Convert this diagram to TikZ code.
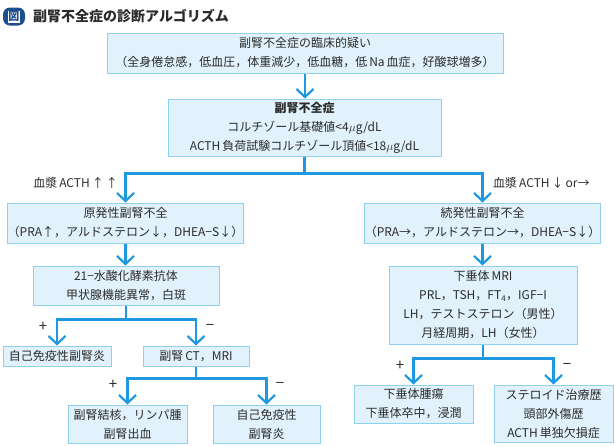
\documentclass[tikz,border=0pt]{standalone}
\usepackage{fontspec}
\newfontfamily\jpfont{Noto Sans CJK JP}
\usepackage{tikz}
\usetikzlibrary{arrows.meta}

\definecolor{boxfill}{HTML}{E1F2FC}
\definecolor{boxline}{HTML}{8ED0F2}
\definecolor{flowblue}{HTML}{1E98DE}
\definecolor{titleblue}{HTML}{1D4E8F}
\definecolor{inkgray}{HTML}{2B2B2B}

\begin{document}
\begin{tikzpicture}[x=1pt, y=-1pt,
    box/.style={draw=boxline, line width=1pt, fill=boxfill, inner sep=0pt, align=center,
      text=inkgray, font=\jpfont\fontsize{12}{19}\selectfont},
    flow/.style={draw=flowblue, line width=2.2pt, -{Straight Barb[length=8pt, width=17pt]}},
    lbl/.style={inner sep=0pt, text=inkgray, font=\jpfont\fontsize{12}{14}\selectfont},
    sign/.style={inner sep=0pt, text=inkgray, font=\jpfont\fontsize{15}{15}\selectfont}]
    \useasboundingbox (0,0) rectangle (615,445);

    % Title
    \node[fill=titleblue, rounded corners=7pt, minimum width=22pt, minimum height=18pt] (icon) at (14,16.5) {};
    \node[fill=white, minimum size=12pt, inner sep=0pt, text=titleblue,
      font=\jpfont\bfseries\fontsize{11}{11}\selectfont] (iconmark) at (icon.center) {図};
    \node[anchor=west, inner sep=0pt, text=inkgray, font=\jpfont\bfseries\fontsize{14}{16}\selectfont]
      (title) at (33,16.5) {副腎不全症の診断アルゴリズム};

    % Suspicion and screening
    \node[box, minimum width=396pt, minimum height=40pt] (query) at (305,53)
      {副腎不全症の臨床的疑い\\（全身倦怠感，低血圧，体重減少，低血糖，低\,Na\,血症，好酸球増多）};
    \node[box, minimum width=273pt, minimum height=57pt] (adrenal) at (304.5,127.5)
      {\textbf{副腎不全症}\\コルチゾール基礎値<4$\mu$g/dL\\ACTH\,負荷試験コルチゾール頂値<18$\mu$g/dL};
    \draw[flow] (query.south) -- (query.south |- adrenal.north);

    % Primary / secondary split
    \node[box, minimum width=233pt, minimum height=40pt] (primary) at (125.5,223)
      {原発性副腎不全\\（PRA↑，アルドステロン↓，DHEA−S↓）};
    \node[box, minimum width=233pt, minimum height=40pt] (secondary) at (482.5,223)
      {続発性副腎不全\\（PRA→，アルドステロン→，DHEA−S↓）};
    \draw[flow] (adrenal.south) -- ++(0,17) -| (primary.north);
    \draw[flow] (adrenal.south) -- ++(0,17) -| (secondary.north);
    \node[lbl, anchor=east] (acthup) at (118,183) {血漿\,ACTH\,↑\,↑};
    \node[lbl, anchor=west] (acthdown) at (493,183) {血漿\,ACTH\,↓\,or→};

    % Primary branch
    \node[box, minimum width=186pt, minimum height=39pt] (antibody) at (126,285.5)
      {21−水酸化酵素抗体\\甲状腺機能異常，白斑};
    \draw[flow] (primary.south) -- (primary.south |- antibody.north);
    \node[box, minimum width=108pt, minimum height=20pt] (autoimm) at (57,356) {自己免疫性副腎炎};
    \node[box, minimum width=106pt, minimum height=20pt] (adrct) at (196,356) {副腎\,CT，MRI};
    \draw[flow] (antibody.south) -- ++(0,14) -| (autoimm.north);
    \draw[flow] (antibody.south) -- ++(0,14) -| (adrct.north);
    \node[sign] (pa) at (43,327) {+};
    \node[sign] (ma) at (210,327) {−};

    \node[box, minimum width=119pt, minimum height=38pt] (tuberc) at (127.5,424)
      {副腎結核，リンパ腫\\副腎出血};
    \node[box, minimum width=107pt, minimum height=38pt] (autoimmb) at (266.5,424)
      {自己免疫性\\副腎炎};
    \draw[flow] (adrct.south) -- ++(0,12) -| (tuberc.north);
    \draw[flow] (adrct.south) -- ++(0,12) -| (autoimmb.north);
    \node[sign] (pb) at (113,385) {+};
    \node[sign] (mb) at (280,385) {−};

    % Secondary branch
    \node[box, minimum width=188pt, minimum height=78pt] (pitmri) at (483,305)
      {下垂体\,MRI\\PRL，TSH，FT\textsubscript{4}，IGF−I\\LH，テストステロン（男性）\\月経周期，LH（女性）};
    \draw[flow] (secondary.south) -- (secondary.south |- pitmri.north);
    \node[box, minimum width=119pt, minimum height=38pt] (pittumor) at (413.5,404)
      {下垂体腫瘍\\下垂体卒中，浸潤};
    \node[box, minimum width=119pt, minimum height=57pt] (steroid) at (553.5,413.5)
      {ステロイド治療歴\\頭部外傷歴\\ACTH\,単独欠損症};
    \draw[flow] (pitmri.south) -- ++(0,14) -| (pittumor.north);
    \draw[flow] (pitmri.south) -- ++(0,14) -| (steroid.north);
    \node[sign] (pc) at (400,366) {+};
    \node[sign] (mc) at (567,366) {−};

\end{tikzpicture}
\end{document}
